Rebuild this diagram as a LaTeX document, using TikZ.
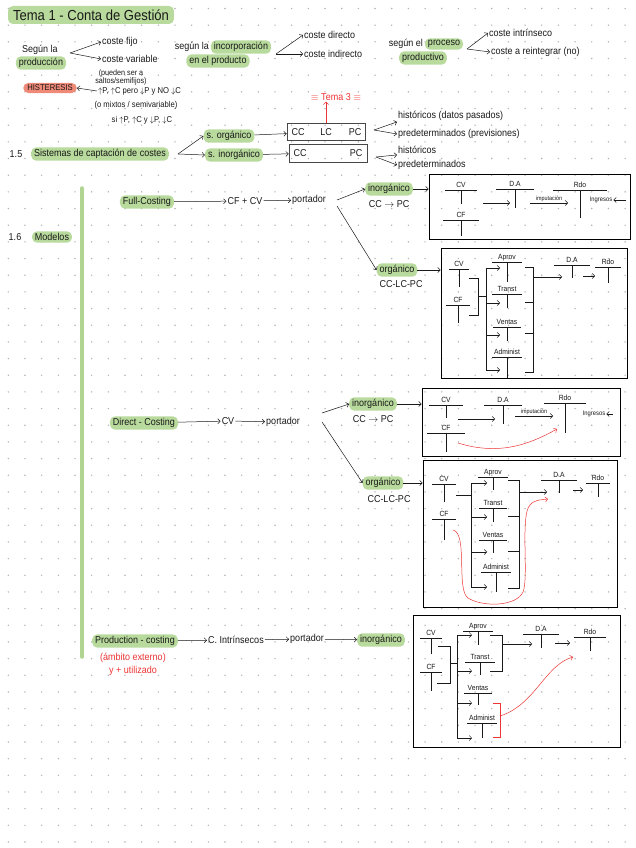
\documentclass[tikz,border=0pt]{standalone}
\usepackage{fontspec}
\setmainfont{Liberation Sans}[FakeStretch=0.9]
\usetikzlibrary{arrows.meta,positioning,calc}
\definecolor{hlgreen}{RGB}{184,218,156}
\definecolor{barverde}{RGB}{176,213,146}
\definecolor{salmon}{RGB}{240,138,120}
\definecolor{tinta}{RGB}{25,25,25}
\definecolor{rojo}{RGB}{236,52,52}
\definecolor{puntos}{RGB}{178,178,178}

% cuenta en T: nombre, x, y, titulo, media anchura, profundidad
\newcommand{\tcuenta}[6]{%
  \node[ttitle] (#1) at (#2,{#3-2.5}) {#4};
  \draw[linea] ({#2-#5},#3) -- ({#2+#5},#3);
  \draw[linea] (#2,#3) -- (#2,{#3+#6});
}

\begin{document}
\begin{tikzpicture}[x=1pt, y=-1pt,
    txt/.style={font=\fontsize{10}{11}\selectfont, inner sep=1pt, text=tinta},
    small/.style={txt, font=\fontsize{8.5}{9}\selectfont},
    hl/.style={txt, fill=hlgreen, rounded corners=5pt, inner xsep=3pt, inner ysep=2pt},
    salmonhl/.style={txt, font=\fontsize{8.5}{9}\selectfont, fill=salmon, rounded corners=5pt, inner xsep=4pt, inner ysep=2pt},
    rojotxt/.style={txt, text=rojo},
    ttitle/.style={font=\fontsize{7.5}{8}\selectfont, anchor=base, inner sep=0pt, text=tinta},
    imput/.style={font=\fontsize{6}{7}\selectfont, inner sep=1pt, text=tinta},
    linea/.style={draw=tinta, line width=0.5pt},
    arr/.style={->, >={Straight Barb[length=2.5pt,width=5pt]}, draw=tinta, line width=0.5pt},
    rarr/.style={arr, draw=rojo},
    caja/.style={draw=tinta!80, line width=0.7pt, inner sep=0pt},
    marco/.style={draw=black, line width=1pt, inner sep=0pt},
    barra/.style={draw=barverde, line width=3.5pt, line cap=round}
  ]
  \useasboundingbox (0,0) rectangle (636,848);

  % papel punteado
  \foreach \i in {0,...,37}
    \foreach \j in {0,...,50}
      \fill[puntos] ({8.3+16.67*\i},{8.5+16.67*\j}) circle (0.8);

  % Titulo
  \node[hl, font=\fontsize{14.5}{15}\selectfont, inner xsep=5pt, minimum height=18pt] (titulo) at (91,15) {Tema 1 - Conta de Gestión};

  % Segun la produccion
  \node[txt] (segun1) at (40,50) {Según la};
  \node[hl] (produccion) at (41,63) {producción};
  \coordinate (bif1) at (70,53);
  \node[txt, anchor=west] (fijo) at (101,42) {coste fijo};
  \node[txt, anchor=west] (variable) at (101,59) {coste variable};
  \node[small, font=\fontsize{8}{8.5}\selectfont, align=center] (pueden) at (121,77.5) {(pueden ser a\\saltos/semifijos)};
  \node[salmonhl] (histeresis) at (50,88) {HISTERESIS};
  \node[small, anchor=west] (subidas) at (97,91) {$\uparrow$P, $\uparrow$C pero $\downarrow$P y NO $\downarrow$C};
  \node[small] (mixtos) at (136,105) {(o mixtos / semivariable)};
  \node[small] (si) at (142,120) {si $\uparrow$P, $\uparrow$C y $\downarrow$P, $\downarrow$C};
  \draw[arr] (bif1) -- (fijo.west);
  \draw[arr] (bif1) -- (variable.west);
  \draw[arr] (subidas.west) -- (histeresis.east);

  % Segun la incorporacion
  \node[txt, anchor=east] (segun2) at (210,47) {según la};
  \node[hl] (incorporacion) at (241,47) {incorporación};
  \node[hl] (enproducto) at (218,61) {en el producto};
  \coordinate (bif2) at (276,54);
  \node[txt, anchor=west] (directo) at (303,35) {coste directo};
  \node[txt, anchor=west] (indirecto) at (303,54) {coste indirecto};
  \draw[arr] (bif2) -- (directo.west);
  \draw[arr] (bif2) -- (indirecto.west);

  % Segun el proceso
  \node[txt, anchor=east] (segun3) at (424,44) {según el};
  \node[hl] (proceso) at (444,44) {proceso};
  \node[hl] (productivo) at (423,58) {productivo};
  \coordinate (bif3) at (467,49);
  \node[txt, anchor=west] (intrinseco) at (488,33) {coste intrínseco};
  \node[txt, anchor=west] (reintegrar) at (490,52) {coste a reintegrar (no)};
  \draw[arr] (bif3) -- (intrinseco.west);
  \draw[arr] (bif3) -- (reintegrar.west);

  % 1.5 Sistemas de captacion
  \node[txt] (n15) at (16,154) {1.5};
  \node[hl] (sistemas) at (100,154) {Sistemas de captación de costes};
  \coordinate (bif4) at (178,154);
  \node[hl] (sorg) at (229,136) {s. orgánico};
  \node[hl] (sinorg) at (234,155) {s. inorgánico};
  \node[caja, minimum width=78pt, minimum height=17pt] (caja1) at (326,132) {};
  \node[txt] (cc1) at (298,132) {CC};
  \node[txt] (lc1) at (326,132) {LC};
  \node[txt] (pc1) at (355,132) {PC};
  \node[caja, minimum width=78pt, minimum height=18pt] (caja2) at (328,153) {};
  \node[txt] (cc2) at (300,153) {CC};
  \node[txt] (pc2) at (356,153) {PC};
  \node[rojotxt] (tema3) at (336,97) {$\equiv$ Tema 3 $\equiv$};
  \coordinate (bif5) at (374,130);
  \coordinate (bif6) at (376,157);
  \node[txt, anchor=west] (hist1) at (397,116) {históricos (datos pasados)};
  \node[txt, anchor=west] (predet1) at (397,134) {predeterminados (previsiones)};
  \node[txt, anchor=west] (hist2) at (397,150) {históricos};
  \node[txt, anchor=west] (predet2) at (397,165) {predeterminados};
  \draw[arr] (bif4) -- (sorg.west);
  \draw[arr] (bif4) -- (sinorg.west);
  \draw[arr] (sorg) -- (caja1);
  \draw[arr] (sinorg) -- (caja2);
  \draw[rarr] (caja1.north -| lc1) -- (lc1 |- tema3.south);
  \draw[arr] (bif5) -- (hist1.south west);
  \draw[arr] (bif5) -- (predet1.west);
  \draw[arr] (bif6) -- (hist2.south west);
  \draw[arr] (bif6) -- (predet2.west);

  % 1.6 Modelos
  \draw[barra] (82,188) -- (82,657);
  \node[txt] (n16) at (15,237) {1.6};
  \node[hl] (modelos) at (52,237) {Modelos};

  % Full-Costing
  \node[hl] (full) at (147,202) {Full-Costing};
  \node[txt] (cfcv) at (245,201) {CF + CV};
  \node[txt] (portador1) at (309,200) {portador};
  \coordinate (bif7) at (337,200);
  \coordinate (bif8) at (337,206);
  \node[hl] (inorg1) at (389,189) {inorgánico};
  \node[txt] (ccpc1) at (389,204) {CC $\to$ PC};
  \node[hl] (org1) at (397,270) {orgánico};
  \node[txt] (cclcpc1) at (401,284) {CC-LC-PC};
  \node[marco, minimum width=201pt, minimum height=65pt] (marcoFC1) at (529.5,206.5) {};
  \node[marco, minimum width=186pt, minimum height=130pt] (marcoFC2) at (534,313) {};
  \draw[arr] (full) -- (cfcv);
  \draw[arr] (cfcv) -- (portador1);
  \draw[arr] (bif7) -- (inorg1.west);
  \draw[arr] (bif8) -- (org1.west);
  \draw[arr] (inorg1.east) -- (inorg1.east -| marcoFC1.west);
  \draw[arr] (org1.east) -- (org1.east -| marcoFC2.west);

  % FC inorganico
  \tcuenta{fcCV}{461}{190}{CV}{16}{14}
  \tcuenta{fcCF}{461}{220}{CF}{18}{16}
  \tcuenta{fcDA}{515}{189}{D.A}{19}{19}
  \tcuenta{fcRdo}{580}{190}{Rdo}{27}{28}
  \coordinate (fc1a) at (483,203);
  \coordinate (fc1b) at (510,203);
  \coordinate (fc1c) at (530,203);
  \coordinate (fc1d) at (568,203);
  \coordinate (fc1e) at (626,200);
  \node[imput, font=\fontsize{6.5}{7}\selectfont] (fcIng) at (601,200) {Ingresos};
  \draw[arr] (fc1a) -- (fc1b);
  \draw[arr] (fc1c) -- node[imput, above] {imputación} (fc1d);
  \draw[arr] (fc1e) -- (fcIng.east);

  % FC organico
  \tcuenta{fc2CV}{459}{269}{CV}{10}{18}
  \tcuenta{fc2CF}{458}{305}{CF}{12}{18}
  \draw[linea] (469,278) -- (478,278) -- (478,315) -- (469,315);
  \draw[linea] (478,296) -- (486,296);
  \draw[linea] (486,268) -- (486,370);
  \foreach \y [count=\k] in {268,303,335,370} {
    \coordinate (fc2s\k) at (486,\y);
    \coordinate (fc2e\k) at (500,\y);
    \draw[arr] (fc2s\k) -- (fc2e\k);
  }
  \tcuenta{fc2Aprov}{507}{262}{Aprov}{15}{20}
  \tcuenta{fc2Transt}{507}{294}{Transt}{15}{14}
  \tcuenta{fc2Ventas}{507}{327}{Ventas}{14}{14}
  \tcuenta{fc2Administ}{507}{357}{Administ}{15}{21}
  \draw[linea] (525,267) -- (533,267) -- (533,372) -- (525,372);
  \draw[linea] (525,302) -- (533,302);
  \draw[linea] (525,333) -- (533,333);
  \tcuenta{fc2DA}{572}{265}{D.A}{18}{13}
  \tcuenta{fc2Rdo}{608}{267}{Rdo}{13}{16}
  \coordinate (fc2a) at (533,277);
  \coordinate (fc2b) at (562,277);
  \coordinate (fc2c) at (583,276);
  \coordinate (fc2d) at (595,276);
  \draw[arr] (fc2a) -- (fc2b);
  \draw[arr] (fc2c) -- (fc2d);

  % Direct-Costing
  \node[hl] (direct) at (144,423) {Direct - Costing};
  \node[txt] (cvdc) at (228,421) {CV};
  \node[txt] (portador2) at (283,422) {portador};
  \coordinate (bif9) at (322,413);
  \coordinate (bif10) at (322,422);
  \node[hl] (inorg2) at (373,404) {inorgánico};
  \node[txt] (ccpc2) at (373,419) {CC $\to$ PC};
  \node[hl] (org2) at (383,483) {orgánico};
  \node[txt] (cclcpc2) at (389,499) {CC-LC-PC};
  \node[marco, minimum width=198pt, minimum height=68pt] (marcoDC1) at (521,422) {};
  \node[marco, minimum width=194pt, minimum height=147pt] (marcoDC2) at (520,533.5) {};
  \draw[arr] (direct) -- (cvdc);
  \draw[arr] (cvdc) -- (portador2);
  \draw[arr] (bif9) -- (inorg2.west);
  \draw[arr] (bif10) -- (org2.west);
  \draw[arr] (inorg2.east) -- (inorg2.east -| marcoDC1.west);
  \draw[arr] (org2.east) -- (org2.east -| marcoDC2.west);

  % DC inorganico
  \tcuenta{dcCV}{446}{405}{CV}{17}{13}
  \tcuenta{dcCF}{446}{433}{CF}{19}{19}
  \tcuenta{dcDA}{503}{405}{D.A}{19}{19}
  \tcuenta{dcRdo}{565}{403}{Rdo}{21}{30}
  \coordinate (dc1a) at (458,419);
  \coordinate (dc1b) at (495,419);
  \coordinate (dc1c) at (515,416);
  \coordinate (dc1d) at (553,416);
  \coordinate (dc1e) at (613,414);
  \coordinate (dc1f) at (458,443);
  \coordinate (dc1g) at (557,429);
  \node[imput, font=\fontsize{6.5}{7}\selectfont] (dcIng) at (594,414) {Ingresos};
  \draw[arr] (dc1a) -- (dc1b);
  \draw[arr] (dc1c) -- node[imput, above] {imputación} (dc1d);
  \draw[arr] (dc1e) -- (dcIng.east);
  \draw[rarr] (dc1f) .. controls (500,456) and (530,444) .. (dc1g);

  % DC organico
  \tcuenta{dc2CV}{444}{484}{CV}{12}{18}
  \tcuenta{dc2CF}{444}{519}{CF}{12}{21}
  \draw[linea] (456,495) -- (471,495);
  \draw[linea] (471,483) -- (471,587);
  \foreach \y [count=\k] in {483,517,552,587} {
    \coordinate (dc2s\k) at (471,\y);
    \coordinate (dc2e\k) at (487,\y);
    \draw[arr] (dc2s\k) -- (dc2e\k);
  }
  \tcuenta{dc2Aprov}{493}{477}{Aprov}{15}{13}
  \tcuenta{dc2Transt}{493}{508}{Transt}{14}{14}
  \tcuenta{dc2Ventas}{493}{540}{Ventas}{14}{13}
  \tcuenta{dc2Administ}{496}{572}{Administ}{15}{20}
  \draw[linea] (508,480) -- (519,480) -- (519,588) -- (508,588);
  \draw[linea] (508,516) -- (519,516);
  \draw[linea] (508,551) -- (519,551);
  \tcuenta{dc2DA}{559}{480}{D.A}{18}{13}
  \tcuenta{dc2Rdo}{598}{483}{Rdo}{12}{14}
  \coordinate (dc2a) at (519,492);
  \coordinate (dc2b) at (547,492);
  \coordinate (dc2c) at (573,490);
  \coordinate (dc2d) at (583,490);
  \coordinate (dc2f) at (453,530);
  \coordinate (dc2g) at (548,499);
  \draw[arr] (dc2a) -- (dc2b);
  \draw[arr] (dc2c) -- (dc2d);
  \draw[rarr] (dc2f) .. controls (468,533) and (456,590) .. (468,598)
    .. controls (482,607) and (516,607) .. (523,592)
    .. controls (529,578) and (520,515) .. (530,505)
    .. controls (535,499) and (542,500) .. (dc2g);

  % Production-Costing
  \node[hl] (production) at (135,641) {Production - costing};
  \node[txt] (cintr) at (236,640) {C. Intrínsecos};
  \node[txt] (portador3) at (307,639) {portador};
  \node[hl] (inorg3) at (381,640) {inorgánico};
  \node[rojotxt] (ambito) at (133,658) {(ámbito externo)};
  \node[rojotxt] (utilizado) at (133,671) {y + utilizado};
  \node[marco, minimum width=207pt, minimum height=132pt] (marcoPC) at (516.5,681) {};
  \draw[arr] (production) -- (cintr);
  \draw[arr] (cintr) -- (portador3);
  \draw[arr] (portador3) -- (inorg3);

  % PC inorganico
  \tcuenta{pcCV}{431}{638}{CV}{11}{16}
  \tcuenta{pcCF}{431}{672}{CF}{11}{19}
  \draw[linea] (438,646) -- (450,646) -- (450,683) -- (437,683);
  \draw[linea] (450,663) -- (457,663);
  \draw[linea] (457,635) -- (457,738);
  \foreach \y [count=\k] in {635,671,703,738} {
    \coordinate (pcs\k) at (457,\y);
    \coordinate (pce\k) at (472,\y);
    \draw[arr] (pcs\k) -- (pce\k);
  }
  \tcuenta{pcAprov}{478}{631}{Aprov}{15}{14}
  \tcuenta{pcTranst}{480}{662}{Transt}{15}{13}
  \tcuenta{pcVentas}{478}{693}{Ventas}{14}{12}
  \tcuenta{pcAdminist}{482}{723}{Administ}{15}{15}
  \draw[linea] (490,635) -- (502,635) -- (502,671) -- (490,671);
  \draw[rojo, line width=0.5pt] (493,703) -- (500,703) -- (500,737) -- (493,737);
  \tcuenta{pcDA}{541}{634}{D.A}{18}{14}
  \tcuenta{pcRdo}{590}{637}{Rdo}{16}{14}
  \coordinate (pca) at (503,644);
  \coordinate (pcb) at (532,644);
  \coordinate (pcc) at (555,643);
  \coordinate (pcd) at (570,643);
  \coordinate (pcf) at (500,716);
  \coordinate (pcg) at (573,657);
  \draw[arr] (pca) -- (pcb);
  \draw[arr] (pcc) -- (pcd);
  \draw[rarr] (pcf) .. controls (535,705) and (545,665) .. (pcg);
\end{tikzpicture}
\end{document}
